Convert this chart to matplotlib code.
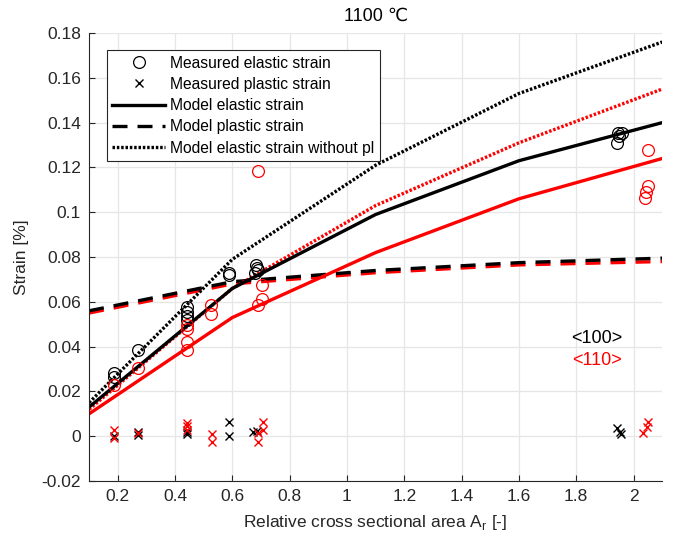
import matplotlib
matplotlib.use("Agg")
import matplotlib.pyplot as plt
from matplotlib.lines import Line2D

plt.rcParams['font.family'] = ['Liberation Sans', 'DejaVu Sans']

# Model curves
model_x = [0.1, 0.6, 1.1, 1.6, 2.1]
el100 = [0.013, 0.066, 0.099, 0.123, 0.140]
el110 = [0.010, 0.053, 0.082, 0.106, 0.124]
pl100 = [0.056, 0.069, 0.0740, 0.0775, 0.0795]
pl110 = [0.055, 0.068, 0.0730, 0.0765, 0.0780]
nopl100 = [0.015, 0.079, 0.121, 0.153, 0.176]
nopl110 = [0.012, 0.066, 0.103, 0.131, 0.155]

# Measured elastic strain
me100_x = [0.187, 0.187, 0.271, 0.44, 0.44, 0.44, 0.44, 0.589, 0.589, 0.683, 0.686, 0.68, 0.69,
           1.946, 1.96, 1.944, 1.95]
me100_y = [0.0282, 0.0265, 0.0385, 0.0577, 0.0555, 0.0535, 0.052, 0.0729, 0.0720, 0.0764, 0.075, 0.0729, 0.074,
           0.1354, 0.1354, 0.131, 0.134]
me110_x = [0.187, 0.271, 0.44, 0.44, 0.44, 0.44, 0.526, 0.526, 0.69, 0.704, 0.704, 0.69,
           2.05, 2.05, 2.045, 2.04]
me110_y = [0.0229, 0.0304, 0.042, 0.0385, 0.048, 0.0495, 0.0586, 0.0546, 0.1184, 0.0675, 0.0613, 0.0586,
           0.128, 0.1117, 0.109, 0.1064]

# Measured plastic strain
mp100_x = [0.187, 0.271, 0.271, 0.44, 0.44, 0.589, 0.589, 0.672, 0.685, 1.943, 1.952, 1.958]
mp100_y = [0.0, 0.002, 0.0005, 0.002, 0.0012, 0.0064, 0.0, 0.002, 0.0022, 0.0036, 0.002, 0.0012]
mp110_x = [0.187, 0.187, 0.271, 0.44, 0.44, 0.44, 0.53, 0.53, 0.69, 0.69, 0.707, 0.707, 2.05, 2.046, 2.034]
mp110_y = [0.0028, -0.0009, 0.0016, 0.0058, 0.0045, 0.003, 0.0012, -0.0027, 0.0013, -0.0027, 0.0062, 0.003,
           0.0062, 0.004, 0.0013]

fig = plt.figure(figsize=(6.75, 5.42), dpi=100)
ax = fig.add_axes([0.132, 0.1125, 0.849, 0.8265])

lw = 2.4
dash = (0, (4.5, 3.0))
dot = (0, (0.75, 0.55))
ax.plot(model_x, pl110, color='red', lw=lw, ls=dash)
ax.plot(model_x, pl100, color='black', lw=lw, ls=dash)
ax.plot(model_x, el110, color='red', lw=lw)
ax.plot(model_x, nopl110, color='red', lw=lw, ls=dot)
ax.plot(model_x, el100, color='black', lw=lw)
ax.plot(model_x, nopl100, color='black', lw=lw, ls=dot)

ax.plot(me100_x, me100_y, 'o', mfc='none', mec='black', ms=8.5, mew=0.9)
ax.plot(me110_x, me110_y, 'o', mfc='none', mec='red', ms=8.5, mew=0.9)
ax.plot(mp100_x, mp100_y, 'x', color='black', ms=6, mew=1.0)
ax.plot(mp110_x, mp110_y, 'x', color='red', ms=6, mew=1.0)

ax.text(1.873, 0.0438, '<100>', color='black', ha='center', va='center', fontsize=13)
ax.text(1.873, 0.0340, '<110>', color='red', ha='center', va='center', fontsize=13)

ax.set_xlim(0.1, 2.1)
ax.set_ylim(-0.02, 0.18)
ax.set_xticks([0.2, 0.4, 0.6, 0.8, 1.0, 1.2, 1.4, 1.6, 1.8, 2.0])
ax.set_xticklabels(['0.2', '0.4', '0.6', '0.8', '1', '1.2', '1.4', '1.6', '1.8', '2'])
ax.set_yticks([-0.02, 0, 0.02, 0.04, 0.06, 0.08, 0.1, 0.12, 0.14, 0.16, 0.18])
ax.set_yticklabels(['-0.02', '0', '0.02', '0.04', '0.06', '0.08', '0.1', '0.12', '0.14', '0.16', '0.18'])
ax.grid(True, color='#e6e6e6', lw=0.9)
ax.set_axisbelow(True)
for s in ['top', 'right']:
    ax.spines[s].set_visible(False)
for s in ['left', 'bottom']:
    ax.spines[s].set_color('#262626')
    ax.spines[s].set_linewidth(0.8)
ax.tick_params(direction='in', length=4, width=0.8, colors='#262626', labelsize=12.5,
               labelcolor='#262626', pad=6)
ax.set_xlabel('Relative cross sectional area A$_\\mathregular{r}$ [-]', fontsize=12.5,
              color='#262626', labelpad=6)
ax.set_ylabel('Strain [%]', fontsize=12.5, color='#262626', labelpad=9)
ax.set_title('1100 \u2103', fontsize=13, color='black', pad=9)

handles = [
    Line2D([], [], ls='none', marker='o', mfc='none', mec='black', ms=8.5, mew=0.9),
    Line2D([], [], ls='none', marker='x', color='black', ms=6, mew=1.0),
    Line2D([], [], color='black', lw=lw),
    Line2D([], [], color='black', lw=lw, ls=dash),
    Line2D([], [], color='black', lw=lw, ls=dot),
]
labels = ['Measured elastic strain', 'Measured plastic strain', 'Model elastic strain',
          'Model plastic strain', 'Model elastic strain without pl']
leg = ax.legend(handles, labels, loc='upper left', bbox_to_anchor=(0.031, 0.962), fontsize=11.25,
                frameon=True, fancybox=False, edgecolor='#262626', framealpha=1,
                borderpad=0.35, labelspacing=0.4, handlelength=3.4, handletextpad=0.3,
                borderaxespad=0)
leg.get_frame().set_linewidth(0.8)

fig.savefig('out.png', dpi=100)
